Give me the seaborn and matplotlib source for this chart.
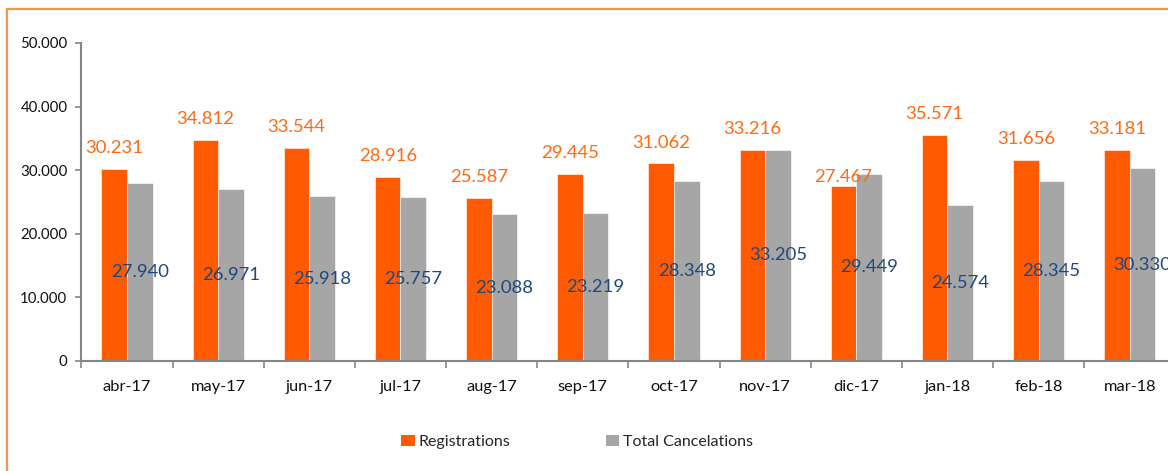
import matplotlib
matplotlib.use("Agg")
import matplotlib.pyplot as plt
import matplotlib.patches as mpatches
from matplotlib.ticker import FuncFormatter, FixedLocator
import seaborn as sns
import pandas as pd

months = ["abr-17", "may-17", "jun-17", "jul-17", "aug-17", "sep-17",
          "oct-17", "nov-17", "dic-17", "jan-18", "feb-18", "mar-18"]
registrations = [30231, 34812, 33544, 28916, 25587, 29445,
                 31062, 33216, 27467, 35571, 31656, 33181]
cancelations = [27940, 26971, 25918, 25757, 23088, 23219,
                28348, 33205, 29449, 24574, 28345, 30330]
series_names = ["Registrations", "Total Cancelations"]

df = pd.DataFrame({
    "month": months * 2,
    "value": registrations + cancelations,
    "series": [series_names[0]] * len(months) + [series_names[1]] * len(months),
})

ORANGE = "#FF5A00"
GRAY = "#A6A6A6"
LABEL_ORANGE = "#FF6A13"
LABEL_BLUE = "#1F497D"
AXIS = "#868686"

sns.set_theme(style="white")
plt.rcParams["font.family"] = ["Lato", "DejaVu Sans"]

fig = plt.figure(figsize=(11.68, 4.71), dpi=100)
ax = fig.add_axes([81.4 / 1168, 110 / 471, 1094 / 1168, 318 / 471])

sns.barplot(data=df, x="month", y="value", hue="series", order=months,
            hue_order=series_names, palette=[ORANGE, GRAY], width=0.56,
            saturation=1, ax=ax, legend=False, edgecolor="white", linewidth=0.4)

ax.set_xlim(-0.5, len(months) - 0.5)
ax.set_ylim(0, 50000)
ax.set_yticks([0, 10000, 20000, 30000, 40000, 50000])
ax.yaxis.set_major_formatter(FuncFormatter(lambda v, p: f"{int(v):,}".replace(",", ".")))
ax.set_xlabel("")
ax.set_ylabel("")

for s in ["top", "right"]:
    ax.spines[s].set_visible(False)
for s in ["left", "bottom"]:
    ax.spines[s].set_color(AXIS)
    ax.spines[s].set_linewidth(1.5)

ax.tick_params(axis="y", which="major", length=4, width=1.2, color=AXIS,
               labelsize=10.8, labelcolor="#111111", pad=6, left=True, direction="out")
ax.tick_params(axis="x", which="major", length=0, labelsize=11.8,
               labelcolor="#111111", pad=14)
ax.xaxis.set_minor_locator(FixedLocator([i + 0.5 for i in range(-1, len(months))]))
ax.tick_params(axis="x", which="minor", length=5, width=1.2, color=AXIS,
               bottom=True, direction="out")

# data labels
bars_reg = ax.containers[0]
bars_can = ax.containers[1]
for i, (b, v) in enumerate(zip(bars_reg, registrations)):
    off = 6.5 if months[i] == "dic-17" else 15
    ax.annotate(f"{v:,}".replace(",", "."),
                (b.get_x() + b.get_width() / 2, b.get_height()),
                xytext=(0, off), textcoords="offset points",
                ha="center", va="center", fontsize=13.3, color=LABEL_ORANGE)
for b, v in zip(bars_can, cancelations):
    ax.annotate(f"{v:,}".replace(",", "."),
                (b.get_x() + b.get_width() / 2, b.get_height() / 2),
                ha="center", va="center", fontsize=13.3, color=LABEL_BLUE)

# legend
handles = [mpatches.Patch(facecolor=ORANGE, edgecolor="none"),
           mpatches.Patch(facecolor=GRAY, edgecolor="none")]
fig.legend(handles, series_names, loc="center", bbox_to_anchor=(577 / 1168, 1 - 442 / 471),
           ncol=2, frameon=False, fontsize=11.5, handlelength=0.85, handleheight=0.75,
           handletextpad=0.2, columnspacing=6.0)

# outer orange frame (chart area border)
frame = mpatches.Rectangle((7 / 1168, -0.2), 1.2, 1.2 - 9 / 471,
                           transform=fig.transFigure, fill=False,
                           edgecolor="#F79646", linewidth=1.6, clip_on=False)
fig.add_artist(frame)

fig.savefig("out.png", dpi=100)
